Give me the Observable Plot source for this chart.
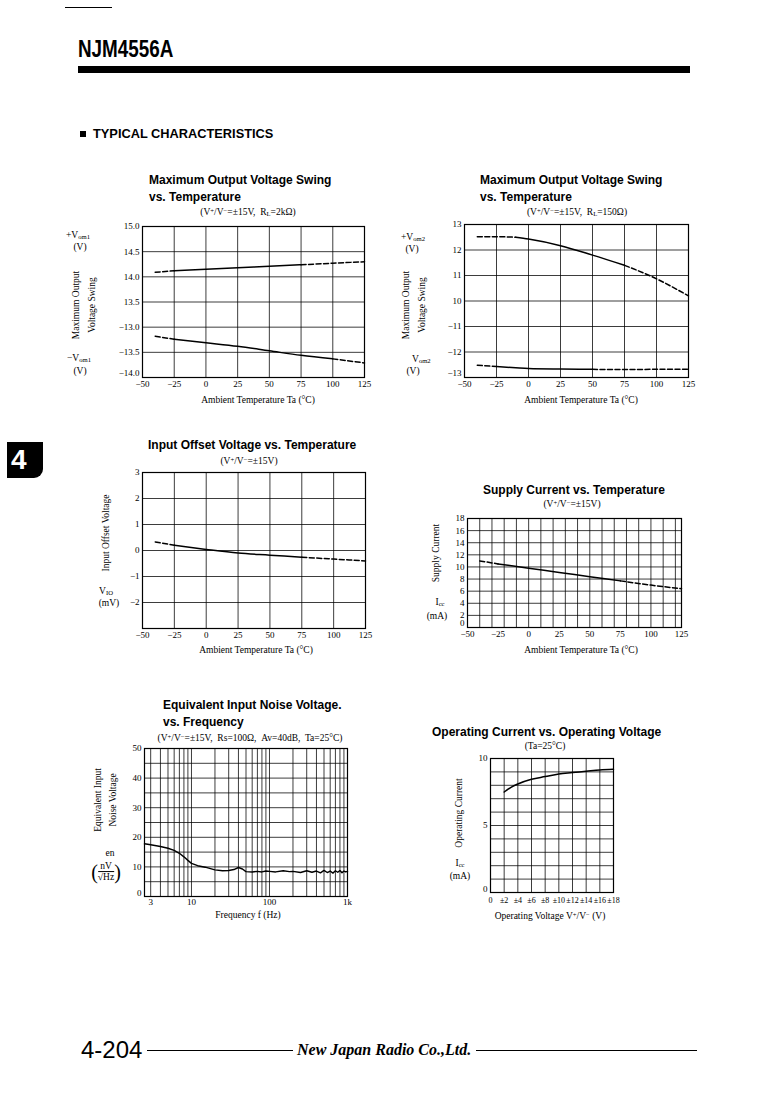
<!DOCTYPE html>
<html><head><meta charset="utf-8">
<script src="https://cdn.jsdelivr.net/npm/d3@7"></script>
<script src="https://cdn.jsdelivr.net/npm/@observablehq/plot@0.6"></script>
<style>
html,body{margin:0;padding:0;background:#fff;}
#page{position:relative;width:774px;height:1093px;overflow:hidden;background:#fff;font-family:"Liberation Serif","DejaVu Serif",serif;color:#000;}
.t{position:absolute;white-space:nowrap;line-height:1;}
.title{font-family:"Liberation Sans",Arial,sans-serif;font-weight:bold;font-size:12px;}
.sub{font-size:9.5px;}
.lab{font-size:9.5px;}
sub{font-size:0.7em;vertical-align:-0.15em;line-height:0;}
sup{font-size:0.7em;vertical-align:0.35em;line-height:0;}
.blk{position:absolute;background:#000;}
</style>
</head><body>
<div id="page"></div>
<script>
// ---------- data ----------
const tempTicks = [-50, -25, 0, 25, 50, 75, 100, 125];

// Chart 1: Max output voltage swing vs temperature (RL = 2kΩ)
const c1Temp = [-40, -25, 0, 25, 50, 75, 100, 125];
const c1Pos = [14.09, 14.12, 14.15, 14.18, 14.21, 14.24, 14.27, 14.30];
const c1Neg = [-13.18, -13.24, -13.31, -13.38, -13.47, -13.56, -13.63, -13.71];
const c1YLabels = ["−14.0", "−13.5", "−13.0", "13.5", "14.0", "14.5", "15.0"];

// Chart 2: Max output voltage swing vs temperature (RL = 150Ω)
const c2Temp = [-40, -25, -10, 0, 25, 50, 75, 100, 125];
const c2Pos = [12.52, 12.52, 12.50, 12.43, 12.17, 11.80, 11.40, 10.87, 10.20];
const c2Neg = [-12.52, -12.57, -12.62, -12.65, -12.67, -12.68, -12.69, -12.68, -12.68];
const c2YLabels = ["−13", "−12", "−11", "10", "11", "12", "13"];

// Chart 3: Input offset voltage vs temperature
const c3Temp = [-40, -25, 0, 25, 50, 75, 100, 125];
const c3Vio = [0.33, 0.20, 0.04, -0.10, -0.18, -0.26, -0.33, -0.40];
const c3YTicks = [-2, -1, 0, 1, 2, 3];

// Chart 4: Supply current vs temperature
const c4Temp = [-40, -25, 0, 25, 50, 75, 100, 125];
const c4Icc = [11.0, 10.5, 9.8, 9.1, 8.4, 7.7, 7.0, 6.4];
const c4YTicks = [0, 2, 4, 6, 8, 10, 12, 14, 16, 18];

// Chart 5: Equivalent input noise voltage vs frequency
const c5Freq = [2.5,3,4,5,6,7,8,9,10,12,15,20,25,30,35,40,45,50,60,70,80,90,100,120,150,180,200,250,300,350,400,450,500,550,600,650,700,750,800,850,900,950,1000];
const c5Noise = [17.8,17.5,16.9,16.3,15.6,14.6,13.4,12.2,11.2,10.4,9.9,9.0,8.7,8.8,9.1,9.8,9.3,8.4,8.3,8.5,8.3,8.6,8.5,8.3,8.7,8.4,8.5,8.1,8.7,8.2,8.6,8.0,8.8,8.1,8.6,7.9,8.7,8.2,8.8,8.0,8.6,8.3,8.5];
const c5XTicks = [3, 10, 100, 1000];
const c5XLabels = ["3", "10", "100", "1k"];
const c5YTicks = [0, 10, 20, 30, 40, 50];

// Chart 6: Operating current vs operating voltage
const c6Volt = [2, 3, 4, 6, 8, 10, 12, 14, 16, 18];
const c6Icc = [7.5, 7.85, 8.1, 8.45, 8.65, 8.85, 8.95, 9.05, 9.15, 9.2];
const c6XTicks = [0, 2, 4, 6, 8, 10, 12, 14, 16, 18];
const c6XLabels = ["0", "±2", "±4", "±6", "±8", "±10", "±12", "±14", "±16", "±18"];
const c6YTicks = [0, 5, 10];

// ---------- helpers ----------
const page = document.getElementById("page");
const INK = "#000";
const gridStyle = {stroke: INK, strokeOpacity: 0.9, strokeWidth: 0.85};

function addPlot(frame, opts, fs = 9) {
  const [L, T, R, B] = frame;
  const ml = 40, mr = 6, mt = 6, mb = 22;
  const svg = Plot.plot({
    width: R - L + ml + mr, height: B - T + mt + mb,
    marginLeft: ml, marginRight: mr, marginTop: mt, marginBottom: mb,
    style: {fontFamily: "Liberation Serif, DejaVu Serif, serif", fontSize: fs + "px", background: "transparent", overflow: "visible", color: INK},
    ...opts
  });
  svg.style.position = "absolute";
  svg.style.left = (L - ml) + "px";
  svg.style.top = (T - mt) + "px";
  page.appendChild(svg);
}

function curve(xs, ys, dashes = [], fy = v => v) {
  const pts = xs.map((x, i) => ({x, y: fy(ys[i])}));
  const rows = []; let g = 0, prev = null;
  for (let i = 0; i < pts.length - 1; i++) {
    const mid = (pts[i].x + pts[i + 1].x) / 2;
    const d = dashes.some(([a, b]) => mid >= a && mid <= b);
    if (d !== prev) { g++; prev = d; rows.push({...pts[i], g, d}); }
    rows.push({...pts[i + 1], g, d});
  }
  const base = {x: "x", y: "y", z: "g", stroke: INK, strokeWidth: 1.5, curve: "monotone-x"};
  return [
    Plot.line(rows.filter(r => !r.d), base),
    Plot.line(rows.filter(r => r.d), {...base, strokeDasharray: "5,2.5"})
  ];
}

// x axis labels drop slightly, the bottom y label lifts so corner labels never collide
function axes(xt, yt, xfmt, yfmt, bottomLift = true) {
  const xo = {tickSize: 0, tickPadding: 3, label: null, ...(xfmt ? {tickFormat: xfmt} : {})};
  const yo = {tickSize: 0, tickPadding: 3, label: null, ...(yfmt ? {tickFormat: yfmt} : {})};
  const marks = [Plot.axisX(xt, xo)];
  if (bottomLift) {
    marks.push(Plot.axisY(yt.slice(1), yo));
    marks.push(Plot.axisY([yt[0]], {...yo, dy: -4}));
  } else {
    marks.push(Plot.axisY(yt, yo));
  }
  return marks;
}

function txt(html, x, y, cls = "lab", mode = "left", extra = "") {
  const d = document.createElement("div");
  d.className = "t " + cls;
  d.innerHTML = html;
  const tr = mode === "center" ? "translate(-50%,-50%)" : mode === "rot" ? "translate(-50%,-50%) rotate(-90deg)" : "translateY(-50%)";
  d.style.cssText = `left:${x}px;top:${y}px;transform:${tr};${extra}`;
  page.appendChild(d);
  return d;
}
function blk(x, y, w, h, extra = "") {
  const d = document.createElement("div");
  d.className = "blk";
  d.style.cssText = `left:${x}px;top:${y}px;width:${w}px;height:${h}px;${extra}`;
  page.appendChild(d);
}

// ---------- page header / footer ----------
blk(65, 7, 47, 1);
txt("NJM4556A", 78, 49, "", "left", "font-family:'Liberation Sans',Arial,sans-serif;font-weight:bold;font-size:23px;transform:translateY(-50%) scaleX(0.82);transform-origin:left center;");
blk(78, 66, 612, 7);
blk(80, 131, 6, 6);
txt("TYPICAL CHARACTERISTICS", 93, 134, "", "left", "font-family:'Liberation Sans',Arial,sans-serif;font-weight:bold;font-size:12.8px;");
blk(7, 442, 36, 36, "border-bottom-right-radius:9px;");
txt("4", 11, 460, "", "left", "font-family:'Liberation Sans',Arial,sans-serif;font-weight:bold;font-size:28px;color:#fff;");
txt("4-204", 81, 1050, "", "left", "font-family:'Liberation Sans',Arial,sans-serif;font-size:24px;");
blk(147, 1050, 146, 1.3);
txt("New Japan Radio Co.,Ltd.", 297, 1050, "", "left", "font-family:'Liberation Serif',serif;font-weight:bold;font-style:italic;font-size:16px;");
blk(476, 1050, 221, 1.3);

// ---------- Chart 1 ----------
{
  const f1 = v => v > 0 ? v : v + 26;
  const yt = [12, 12.5, 13, 13.5, 14, 14.5, 15];
  const lab = new Map(yt.map((t, i) => [t, c1YLabels[i]]));
  addPlot([142, 226, 364, 377], {
    x: {domain: [-50, 125]}, y: {domain: [12, 15]},
    marks: [
      Plot.gridX(tempTicks, gridStyle), Plot.gridY(yt, gridStyle),
      Plot.frame({stroke: INK, strokeWidth: 1.2}),
      ...curve(c1Temp, c1Pos, [[-40, -15], [75, 125]], f1),
      ...curve(c1Temp, c1Neg, [[-40, -30], [90, 125]], f1),
      ...axes(tempTicks, yt, null, d => lab.get(d))
    ]
  });
  txt("Maximum Output Voltage Swing", 149, 180, "title");
  txt("vs. Temperature", 149, 197, "title");
  txt("(V<sup>+</sup>/V<sup>−</sup>=±15V,&nbsp; R<sub>L</sub>=2kΩ)", 248, 213, "sub", "center");
  txt("+V<sub>om1</sub>", 66, 236);
  txt("(V)", 80, 248, "lab", "center");
  txt("Maximum Output", 77, 305, "lab", "rot");
  txt("Voltage Swing", 93, 305, "lab", "rot");
  txt("−V<sub>om1</sub>", 67, 359);
  txt("(V)", 80, 372, "lab", "center");
  txt("Ambient Temperature Ta (°C)", 258, 401, "lab", "center");
}

// ---------- Chart 2 ----------
{
  const f2 = v => v > 0 ? v : v + 20;
  const yt = [7, 8, 9, 10, 11, 12, 13];
  const lab = new Map(yt.map((t, i) => [t, c2YLabels[i]]));
  addPlot([464, 224, 688, 377], {
    x: {domain: [-50, 125]}, y: {domain: [7, 13]},
    marks: [
      Plot.gridX(tempTicks, gridStyle), Plot.gridY(yt, gridStyle),
      Plot.frame({stroke: INK, strokeWidth: 1.2}),
      ...curve(c2Temp, c2Pos, [[-40, -10], [85, 125]], f2),
      ...curve(c2Temp, c2Neg, [[-40, -20], [60, 125]], f2),
      ...axes(tempTicks, yt, null, d => lab.get(d))
    ]
  });
  txt("Maximum Output Voltage Swing", 480, 180, "title");
  txt("vs. Temperature", 480, 197, "title");
  txt("(V<sup>+</sup>/V<sup>−</sup>=±15V,&nbsp; R<sub>L</sub>=150Ω)", 577, 213, "sub", "center");
  txt("+V<sub>om2</sub>", 401, 238);
  txt("(V)", 412, 250, "lab", "center");
  txt("Maximum Output", 407, 305, "lab", "rot");
  txt("Voltage Swing", 423, 305, "lab", "rot");
  txt("V<sub>om2</sub>", 412, 360);
  txt("(V)", 413, 372, "lab", "center");
  txt("Ambient Temperature Ta (°C)", 581, 401, "lab", "center");
}

// ---------- Chart 3 ----------
{
  addPlot([142, 472, 365, 628], {
    x: {domain: [-50, 125]}, y: {domain: [-3, 3]},
    marks: [
      Plot.gridX(tempTicks, gridStyle), Plot.gridY(c3YTicks, gridStyle),
      Plot.frame({stroke: INK, strokeWidth: 1.2}),
      ...curve(c3Temp, c3Vio, [[-40, -20], [70, 125]]),
      ...axes(tempTicks, c3YTicks, null, null, false)
    ]
  });
  txt("Input Offset Voltage vs. Temperature", 148, 445, "title");
  txt("(V<sup>+</sup>/V<sup>−</sup>=±15V)", 249, 462, "sub", "center");
  txt("Input Offset Voltage", 107, 533, "lab", "rot");
  txt("V<sub>IO</sub>", 106, 592, "lab", "center");
  txt("(mV)", 109, 604, "lab", "center");
  txt("Ambient Temperature Ta (°C)", 256, 651, "lab", "center");
}

// ---------- Chart 4 ----------
{
  const grid10 = d3.range(-40, 125, 10);
  addPlot([467, 518, 681, 627], {
    x: {domain: [-50, 125]}, y: {domain: [0, 18]},
    marks: [
      Plot.gridX(grid10, gridStyle), Plot.gridY(c4YTicks, gridStyle),
      Plot.frame({stroke: INK, strokeWidth: 1.2}),
      ...curve(c4Temp, c4Icc, [[-40, -20], [70, 125]]),
      ...axes(tempTicks, c4YTicks)
    ]
  });
  txt("Supply Current vs. Temperature", 483, 490, "title");
  txt("(V<sup>+</sup>/V<sup>−</sup>=±15V)", 572, 505, "sub", "center");
  txt("Supply Current", 437, 553, "lab", "rot");
  txt("I<sub>cc</sub>", 440, 603, "lab", "center");
  txt("(mA)", 437, 617, "lab", "center");
  txt("Ambient Temperature Ta (°C)", 581, 651, "lab", "center");
}

// ---------- Chart 5 ----------
{
  const gx = [3,4,5,6,7,8,9,10,20,30,40,50,60,70,80,90,100,200,300,400,500,600,700,800,900];
  const gy = d3.range(5, 50, 5);
  addPlot([144, 748, 347, 896], {
    x: {type: "log", domain: [2.5, 1000], axis: null}, y: {domain: [0, 50]},
    marks: [
      Plot.gridX(gx, gridStyle), Plot.gridY(gy, gridStyle),
      Plot.frame({stroke: INK, strokeWidth: 1.2}),
      Plot.line(c5Freq.map((f, i) => ({x: f, y: c5Noise[i]})), {x: "x", y: "y", stroke: INK, strokeWidth: 1.4}),
      Plot.text(c5XTicks, {x: d => d, frameAnchor: "bottom", dy: 8, text: (d, i) => c5XLabels[i], fontSize: 9}),
      Plot.axisY(c5YTicks.slice(1), {tickSize: 0, tickPadding: 3, label: null}),
      Plot.axisY([c5YTicks[0]], {tickSize: 0, tickPadding: 3, label: null, dy: -3})
    ]
  });
  txt("Equivalent Input Noise Voltage.", 163, 705, "title");
  txt("vs. Frequency", 163, 722, "title");
  txt("(V<sup>+</sup>/V<sup>−</sup>=±15V,&nbsp; Rs=100Ω,&nbsp; Av=40dB,&nbsp; Ta=25°C)", 250, 739, "sub", "center");
  txt("Equivalent Input", 99, 800, "lab", "rot");
  txt("Noise Voltage", 114, 800, "lab", "rot");
  txt("en", 110, 854, "lab", "center");
  txt("<span style='font-size:20px;vertical-align:middle'>(</span><span style='display:inline-block;vertical-align:middle;text-align:center;line-height:1.1'><span style='display:block;border-bottom:0.8px solid #000'>nV</span><span style='display:block'>√Hz</span></span><span style='font-size:20px;vertical-align:middle'>)</span>", 106, 872, "lab", "center");
  txt("Frequency f (Hz)", 248, 916, "lab", "center");
}

// ---------- Chart 6 ----------
{
  const gy = d3.range(1, 10, 1);
  const xl = new Map(c6XTicks.map((t, i) => [t, c6XLabels[i]]));
  addPlot([490, 758, 613, 892], {
    x: {domain: [0, 18]}, y: {domain: [0, 10]},
    marks: [
      Plot.gridX(c6XTicks, gridStyle), Plot.gridY(gy, gridStyle),
      Plot.frame({stroke: INK, strokeWidth: 1.2}),
      ...curve(c6Volt, c6Icc),
      Plot.axisX(c6XTicks, {tickSize: 0, tickPadding: 5, label: null, fontSize: 8, tickFormat: d => xl.get(d)}),
      Plot.axisY(c6YTicks.slice(1), {tickSize: 0, tickPadding: 3, label: null}),
      Plot.axisY([c6YTicks[0]], {tickSize: 0, tickPadding: 3, label: null, dy: -3})
    ]
  });
  txt("Operating Current vs. Operating Voltage", 432, 732, "title");
  txt("(Ta=25°C)", 545, 747, "sub", "center");
  txt("Operating Current", 460, 813, "lab", "rot");
  txt("I<sub>cc</sub>", 460, 864, "lab", "center");
  txt("(mA)", 460, 877, "lab", "center");
  txt("Operating Voltage V<sup>+</sup>/V<sup>−</sup> (V)", 550, 917, "lab", "center");
}
</script>
</body></html>
